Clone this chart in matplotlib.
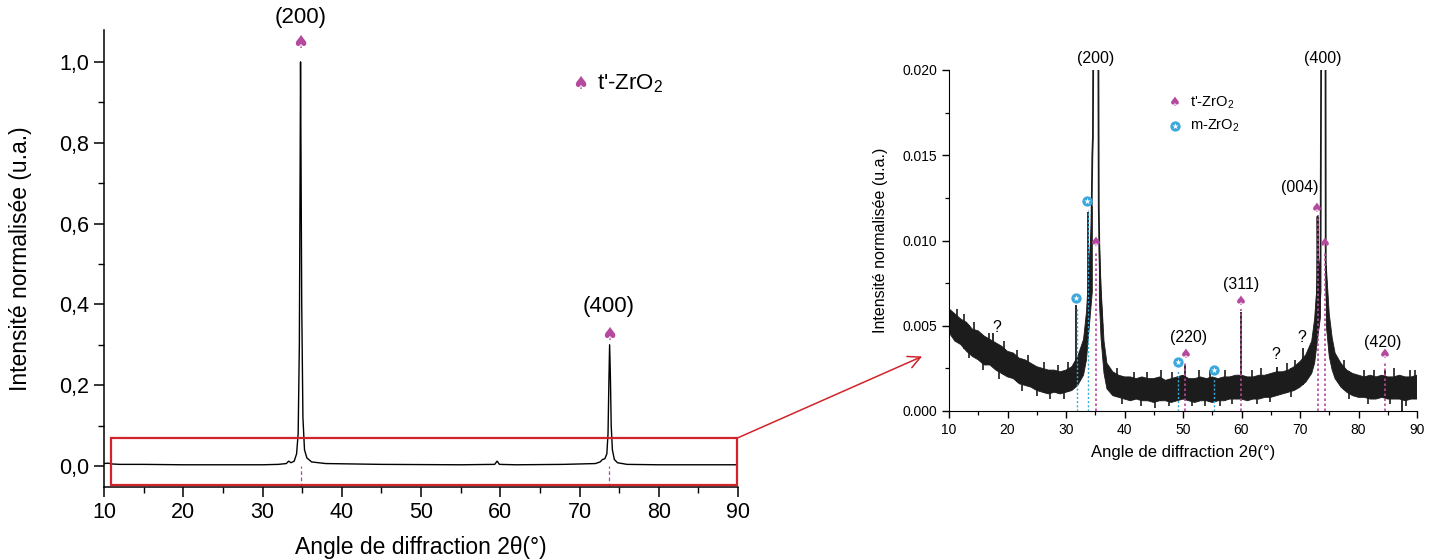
import numpy as np
import matplotlib
matplotlib.use("Agg")
import matplotlib.pyplot as plt
from matplotlib.patches import Rectangle, ConnectionPatch
from matplotlib.ticker import MultipleLocator, FuncFormatter, FormatStrFormatter

plt.rcParams['font.family'] = ['Liberation Sans', 'DejaVu Sans']
plt.rcParams['mathtext.fontset'] = 'custom'
plt.rcParams['mathtext.rm'] = 'Liberation Sans'
plt.rcParams['mathtext.it'] = 'Liberation Sans:italic'

# ---------------- data : full pattern (left) ----------------
left_x = [10, 10.5, 11, 12, 15, 20, 25, 30, 32, 33.0, 33.3, 33.6, 34.0, 34.3, 34.5, 34.65, 34.75,
          34.8, 34.85, 34.95, 35.1, 35.3, 35.6, 36.2, 38, 45, 55, 59.3, 59.6, 59.9, 62, 68,
          72.0, 72.6, 72.9, 73.2, 73.45, 73.6, 73.7, 73.8, 73.9, 74.0, 74.15, 74.4, 74.8, 76,
          80, 85, 90]
left_y = [0.006, 0.007, 0.005, 0.004, 0.004, 0.003, 0.003, 0.003, 0.004, 0.006, 0.012, 0.008,
          0.012, 0.03, 0.08, 0.3, 0.75, 1.0, 0.8, 0.4, 0.12, 0.04, 0.02, 0.01, 0.006, 0.004,
          0.003, 0.004, 0.012, 0.004, 0.003, 0.004, 0.006, 0.010, 0.016, 0.018, 0.03, 0.08, 0.2,
          0.30, 0.22, 0.1, 0.04, 0.016, 0.008, 0.004, 0.003, 0.003, 0.003]
left_peak_labels = ["(200)", "(400)"]
left_peak_x = [34.8, 73.7]
left_marker_y = [1.047, 0.324]
left_label_y = [1.109, 0.394]
zoom_box = [10.9, 89.9, -0.047, 0.069]   # x0, x1, y0, y1
arrow_target = [5.4, 0.0032]            # in zoomed-axis data units

# ---------------- data : zoomed pattern (right) ----------------
nan = float('nan')
band_x = [10, 11, 12, 13, 14, 15, 16, 17, 18, 19, 20, 21, 22, 23, 24, 25, 26, 27, 28, 29, 30, 31,
          32, 33, 33.5, 34, 34.5, 35, 35.7, 36, 36.5, 37, 38, 39, 40, 41, 42, 43, 44, 45, 46, 47,
          48, 49, 50, 51, 52, 53, 54, 55, 56, 57, 58, 59, 60, 61, 62, 63, 64, 65, 66, 67, 68, 69,
          70, 71, 72, 72.5, 73, 73.5, 74, 74.5, 75, 75.5, 76, 77, 78, 79, 80, 81, 82, 83, 84, 85,
          86, 87, 88, 89, 90]
band_lo = [.0046, .0041, .0039, .0035, .0032, .0030, .0027, .0027, .0024, .0022, .0020, .0019,
           .0016, .0015, .0014, .0012, .0011, .0010, .0011, .0010, .0011, .0012, .0015, .0021,
           .0030, .0050, .0070, nan, .0065, .0042, .0022, .0013, .0009, .0008, .0007, .0006,
           .0007, .0006, .0006, .0005, .0006, .0006, .0005, .0006, .0007, .0006, .0005, .0006,
           .0006, .0005, .0006, .0006, .0007, .0007, .0007, .0006, .0007, .0007, .0008, .0008,
           .0009, .0010, .0011, .0012, .0014, .0017, .0022, .0028, .0042, .0055, nan, .0050,
           .0032, .0024, .0019, .0014, .0011, .0009, .0008, .0008, .0007, .0007, .0008, .0007,
           .0007, .0007, .0006, .0007, .0007]
band_hi = [.0060, .0057, .0054, .0052, .0048, .0047, .0044, .0042, .0040, .0038, .0035, .0034,
           .0031, .0030, .0028, .0026, .0025, .0024, .0024, .0023, .0024, .0026, .0032, .0042,
           .0058, .0088, .0120, nan, .0100, .0072, .0041, .0028, .0023, .0021, .0020, .0020,
           .0019, .0020, .0019, .0019, .0020, .0018, .0019, .0020, .0021, .0019, .0019, .0020,
           .0019, .0020, .0019, .0020, .0020, .0021, .0021, .0020, .0020, .0021, .0021, .0022,
           .0023, .0023, .0024, .0026, .0029, .0033, .0041, .0054, .0078, .0090, nan, .0085,
           .0057, .0043, .0034, .0028, .0024, .0022, .0021, .0020, .0021, .0020, .0021, .0020,
           .0020, .0021, .0020, .0020, .0021]

# noise spikes poking out of the band
noise_up_x = [11.3, 12.6, 14.2, 16.8, 19.4, 21.7, 23.5, 26.2, 28.6, 30.4, 38.7, 41.6, 43.9,
              46.3, 48.2, 52.8, 54.6, 57.1, 61.8, 63.4, 67.8, 69.2, 77.6, 80.9, 82.7, 86.1,
              88.8, 89.6]
noise_up_top = [.0060, .0057, .0052, .0046, .0041, .0036, .0033, .0029, .0027, .0029, .0025,
                .0023, .0023, .0024, .0023, .0024, .0024, .0024, .0024, .0025, .0028, .0030,
                .0030, .0024, .0024, .0025, .0024, .0024]
noise_dn_x = [13.4, 15.8, 18.6, 22.4, 25.1, 27.3, 29.7, 39.5, 42.8, 45.2, 47.6, 51.5, 53.7,
              56.4, 58.3, 62.6, 64.8, 68.5, 78.4, 81.6, 85.3, 88.2]
noise_dn_bot = [.0031, .0024, .0019, .0012, .0009, .0007, .0007, .0004, .0003, .0002, .0003,
                .0003, .0003, .0003, .0004, .0004, .0005, .0008, .0007, .0004, .0004, .0003]

peak200_x = [34.0, 34.3, 34.5, 34.6, 34.7, 35.5, 35.6, 35.7, 35.9, 36.2]
peak200_y = [0.0075, 0.0095, 0.0150, 0.0160, 0.0250, 0.0250, 0.0120, 0.0095, 0.0070, 0.0050]
peak400_x = [72.7, 72.9, 73.0, 73.1, 73.3, 73.5, 73.65, 73.75, 74.35, 74.4, 74.5, 74.8, 75.2]
peak400_y = [0.0040, 0.0070, 0.0114, 0.0080, 0.0057, 0.0070, 0.0250, 0.0250, 0.0250, 0.0089,
             0.0070, 0.0050, 0.0040]

spike_x = [17.5, 31.7, 33.7, 50.3, 59.9, 66.0, 70.5, 84.5, 87.4]
spike_lo = [0.0030, 0.0020, 0.0045, 0.0010, 0.0008, 0.0010, 0.0015, 0.0008, 0.0000]
spike_hi = [0.0046, 0.0062, 0.0117, 0.0027, 0.0058, 0.0026, 0.0037, 0.0024, 0.0012]

t_marker_x = [35.1, 50.5, 59.9, 72.9, 74.3, 84.5]
t_marker_y = [0.0099, 0.0033, 0.0064, 0.0119, 0.0098, 0.0033]
m_marker_x = [31.7, 33.6, 49.1, 55.3]
m_marker_y = [0.0066, 0.0123, 0.0029, 0.0024]
t_line_x = [35.1, 50.3, 59.9, 73.0, 74.3, 84.5]
t_line_top = [0.0093, 0.0029, 0.0060, 0.0115, 0.0094, 0.0029]
m_line_x = [31.9, 33.7, 49.1, 55.3]
m_line_top = [0.0061, 0.0118, 0.0024, 0.0019]

right_labels = ["(200)", "(400)", "(220)", "(311)", "(004)", "(420)"]
right_label_x = [35.0, 73.9, 50.9, 59.9, 70.0, 84.2]
right_label_y = [0.0207, 0.0207, 0.0043, 0.0074, 0.0131, 0.0040]
question_x = [18.2, 65.9, 70.3]
question_y = [0.0049, 0.0033, 0.0043]

MAG = '#b4499e'
BLUE = '#3ba8dd'
RED = '#d2232a'
INK = '#1c1c1c'
SPADE = '\u2660'

fig = plt.figure(figsize=(14.39, 5.59), dpi=100)

# ================= left axes =================
ax1 = fig.add_axes([104 / 1439, (559 - 487) / 559, 634 / 1439, (487 - 30) / 559])
ax1.set_xlim(10, 90)
ax1.set_ylim(-0.052, 1.079)
for s in ['top', 'right']:
    ax1.spines[s].set_visible(False)
for s in ['left', 'bottom']:
    ax1.spines[s].set_linewidth(1.1)
for px in left_peak_x:
    ax1.plot([px, px], [-0.052, 0.0], ls=(0, (3, 2)), color=MAG, lw=0.9, zorder=1)
ax1.plot(left_x, left_y, color='black', lw=1.0, zorder=2)
for lab, px, my, ly in zip(left_peak_labels, left_peak_x, left_marker_y, left_label_y):
    ax1.text(px, my, SPADE, color=MAG, fontsize=13, ha='center', va='center',
             family='DejaVu Sans')
    ax1.text(px, ly, lab, fontsize=16, ha='center', va='center')
ax1.text(70.06, 0.946, SPADE, color=MAG, fontsize=13, ha='center', va='center',
         family='DejaVu Sans')
ax1.text(72.2, 0.946, "t'-ZrO$_2$", fontsize=16, ha='left', va='center')
ax1.add_patch(Rectangle((zoom_box[0], zoom_box[2]), zoom_box[1] - zoom_box[0],
                        zoom_box[3] - zoom_box[2], fill=False, ec=RED, lw=1.6, zorder=3,
                        clip_on=False))
ax1.xaxis.set_major_locator(MultipleLocator(10))
ax1.xaxis.set_minor_locator(MultipleLocator(5))
ax1.yaxis.set_major_locator(MultipleLocator(0.2))
ax1.yaxis.set_minor_locator(MultipleLocator(0.1))
ax1.yaxis.set_major_formatter(FuncFormatter(lambda v, p: f"{v:.1f}".replace('.', ',')))
ax1.tick_params(which='major', direction='out', length=7, width=1.1, labelsize=15.5)
ax1.tick_params(which='minor', direction='out', length=4, width=1.0)
ax1.set_xlabel("Angle de diffraction 2\u03b8(\u00b0)", fontsize=16.5, labelpad=10)
ax1.set_ylabel("Intensit\u00e9 normalis\u00e9e (u.a.)", fontsize=16.5, labelpad=20)

# ================= right axes =================
ax2 = fig.add_axes([949 / 1439, (559 - 411) / 559, 468 / 1439, 341 / 559])
ax2.set_xlim(10, 90)
ax2.set_ylim(0, 0.020)
for s in ['top', 'right']:
    ax2.spines[s].set_visible(False)
ax2.fill_between(band_x, band_lo, band_hi, color=INK, lw=0.6, zorder=2)
up_base = np.interp(noise_up_x, band_x, band_lo)
dn_base = np.interp(noise_dn_x, band_x, band_hi)
ax2.vlines(noise_up_x, up_base, noise_up_top, color=INK, lw=1.2, zorder=2)
ax2.vlines(noise_dn_x, noise_dn_bot, dn_base, color=INK, lw=1.2, zorder=2)
ax2.plot(peak200_x, peak200_y, color=INK, lw=1.3, zorder=3)
ax2.plot(peak400_x, peak400_y, color=INK, lw=1.3, zorder=3)
ax2.vlines(spike_x, spike_lo, spike_hi, color=INK, lw=1.3, zorder=3)
for xx, yy in zip(t_line_x, t_line_top):
    ax2.plot([xx, xx], [0, yy], ls=(0, (1.5, 1.5)), color=MAG, lw=1.2, zorder=4)
for xx, yy in zip(m_line_x, m_line_top):
    ax2.plot([xx, xx], [0, yy], ls=(0, (1.5, 1.5)), color=BLUE, lw=1.0, zorder=4)
for xx, yy in zip(t_marker_x, t_marker_y):
    ax2.text(xx, yy, SPADE, color=MAG, fontsize=9.5, ha='center', va='center',
             family='DejaVu Sans', zorder=5)
ax2.scatter(m_marker_x, m_marker_y, s=55, color=BLUE, zorder=5, lw=0)
ax2.scatter(m_marker_x, m_marker_y, s=22, marker='*', color='white', zorder=6, lw=0)
for lab, xx, yy in zip(right_labels, right_label_x, right_label_y):
    ax2.text(xx, yy, lab, fontsize=11.5, ha='center', va='center', clip_on=False)
for xx, yy in zip(question_x, question_y):
    ax2.text(xx, yy, "?", fontsize=11.5, ha='center', va='center')
# legend
ax2.text(48.6, 0.0181, SPADE, color=MAG, fontsize=9.5, ha='center', va='center',
         family='DejaVu Sans')
ax2.text(51.2, 0.0181, "t'-ZrO$_2$", fontsize=10.5, ha='left', va='center')
ax2.scatter([48.6], [0.0167], s=55, color=BLUE, zorder=5, lw=0)
ax2.scatter([48.6], [0.0167], s=22, marker='*', color='white', zorder=6, lw=0)
ax2.text(51.2, 0.0167, "m-ZrO$_2$", fontsize=10.5, ha='left', va='center')

ax2.xaxis.set_major_locator(MultipleLocator(10))
ax2.xaxis.set_minor_locator(MultipleLocator(5))
ax2.yaxis.set_major_locator(MultipleLocator(0.005))
ax2.yaxis.set_minor_locator(MultipleLocator(0.0025))
ax2.yaxis.set_major_formatter(FormatStrFormatter('%.3f'))
ax2.tick_params(which='major', direction='out', length=5, width=1.0, labelsize=10)
ax2.tick_params(which='minor', direction='out', length=3, width=0.9)
ax2.set_xlabel("Angle de diffraction 2\u03b8(\u00b0)", fontsize=12, labelpad=6)
ax2.set_ylabel("Intensit\u00e9 normalis\u00e9e (u.a.)", fontsize=11.5, labelpad=10)

# red arrow from zoom box corner to zoomed plot
con = ConnectionPatch(xyA=(zoom_box[1], zoom_box[3]), coordsA=ax1.transData,
                      xyB=(arrow_target[0], arrow_target[1]), coordsB=ax2.transData,
                      arrowstyle='->', mutation_scale=22, color=RED, lw=1.1)
fig.add_artist(con)

fig.savefig("out.png", dpi=100)
